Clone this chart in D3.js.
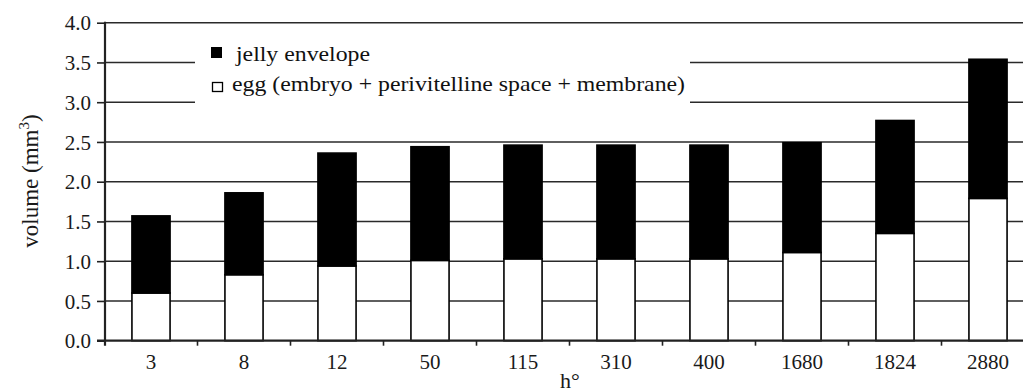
<!DOCTYPE html>
<html>
<head>
<meta charset="utf-8">
<script src="https://cdn.jsdelivr.net/npm/d3@7"></script>
<style>
  html, body { margin: 0; padding: 0; background: #fff; }
  svg { display: block; }
</style>
</head>
<body>
<svg id="chart" width="1023" height="392"></svg>
<script>
// ---- data ----
const categories = ["3", "8", "12", "50", "115", "310", "400", "1680", "1824", "2880"];
const eggValues   = [0.60, 0.83, 0.94, 1.01, 1.03, 1.03, 1.03, 1.11, 1.35, 1.79];
const jellyValues = [0.97, 1.03, 1.42, 1.43, 1.43, 1.43, 1.43, 1.38, 1.42, 1.75];
const yTicks = [0.0, 0.5, 1.0, 1.5, 2.0, 2.5, 3.0, 3.5, 4.0];
const seriesNames = ["jelly envelope", "egg (embryo + perivitelline space + membrane)"];
const xTitle = "h°";

const FONT = "'Liberation Serif', 'Times New Roman', Times, serif";
const svg = d3.select("#chart").style("font-family", FONT);
const W = 1023, H = 392;

const x = d3.scaleBand().domain(categories).range([104.5, 1034.5])
  .paddingInner(0.59).paddingOuter(0.295);
const y = d3.scaleLinear().domain([0, 4]).range([340.7, 22.7]);
const x0 = 105;

const rows = categories.map((c, i) => ({ cat: c, egg: eggValues[i], jelly: jellyValues[i] }));
const stack = d3.stack().keys(["egg", "jelly"])(rows);

// gridlines
svg.append("g").selectAll("line").data(yTicks.filter(d => d > 0)).join("line")
  .attr("x1", x0).attr("x2", W)
  .attr("y1", d => y(d)).attr("y2", d => y(d))
  .attr("stroke", "#2a2a2a").attr("stroke-width", 1.6);

// legend background
svg.append("rect").attr("x", 195).attr("y", 34).attr("width", 495).attr("height", 84).attr("fill", "#fff");

// bars
const fills = { egg: "#fff", jelly: "#000" };
svg.append("g").selectAll("g").data(stack).join("g")
  .attr("fill", d => fills[d.key])
  .selectAll("rect").data(d => d).join("rect")
  .attr("x", d => x(d.data.cat))
  .attr("width", x.bandwidth())
  .attr("y", d => y(d[1]))
  .attr("height", d => y(d[0]) - y(d[1]))
  .attr("stroke", "#000").attr("stroke-width", 1.6);

// y axis
const yAxis = d3.axisLeft(y).tickValues(yTicks).tickFormat(d3.format(".1f")).tickSize(8).tickPadding(6);
const gy = svg.append("g").attr("transform", `translate(${x0},0)`).call(yAxis);
gy.select(".domain").remove();
gy.selectAll(".tick line").attr("stroke", "#222").attr("stroke-width", 1.6);
gy.selectAll(".tick text").style("font-family", FONT).style("font-size", "21px").attr("fill", "#1a1a1a").attr("dy", "0.34em");
svg.append("line").attr("x1", x0).attr("x2", x0).attr("y1", y(4) - 1).attr("y2", y(0) + 5)
  .attr("stroke", "#222").attr("stroke-width", 2.2);

// x axis
const gx = svg.append("g").attr("transform", `translate(0,${y(0)})`)
  .call(d3.axisBottom(x).tickSize(0).tickPadding(13));
gx.select(".domain").remove();
gx.selectAll(".tick text").style("font-family", FONT).style("font-size", "21px").attr("fill", "#1a1a1a");
svg.append("line").attr("x1", 97).attr("x2", W).attr("y1", y(0)).attr("y2", y(0))
  .attr("stroke", "#222").attr("stroke-width", 2.2);
// boundary ticks between categories
svg.append("g").selectAll("line").data(categories.slice(1)).join("line")
  .attr("x1", d => x(d) - x.step() * x.paddingInner() / 2)
  .attr("x2", d => x(d) - x.step() * x.paddingInner() / 2)
  .attr("y1", y(0)).attr("y2", y(0) + 5)
  .attr("stroke", "#222").attr("stroke-width", 1.6);

// axis titles
svg.append("text").attr("x", 570).attr("y", 388).attr("text-anchor", "middle")
  .style("font-family", FONT).style("font-size", "22px").attr("fill", "#1a1a1a").text(xTitle);
const yt = svg.append("text").attr("transform", "translate(38,181) rotate(-90)")
  .attr("text-anchor", "middle").style("font-family", FONT).style("font-size", "23px").attr("fill", "#1a1a1a");
yt.append("tspan").text("volume (mm");
yt.append("tspan").style("font-size", "15px").attr("dy", -9).text("3");
yt.append("tspan").attr("dy", 9).text(")");

// legend
svg.append("rect").attr("x", 211).attr("y", 47).attr("width", 11).attr("height", 11).attr("fill", "#000");
svg.append("rect").attr("x", 212.5).attr("y", 82.5).attr("width", 10).attr("height", 9)
  .attr("fill", "#fff").attr("stroke", "#000").attr("stroke-width", 1.3);
svg.append("text").attr("x", 236).attr("y", 61).style("font-family", FONT).style("font-size", "21px").attr("fill", "#111")
  .attr("textLength", 134).attr("lengthAdjust", "spacingAndGlyphs").text(seriesNames[0]);
svg.append("text").attr("x", 232).attr("y", 91).style("font-family", FONT).style("font-size", "21px").attr("fill", "#111")
  .attr("textLength", 453).attr("lengthAdjust", "spacingAndGlyphs").text(seriesNames[1]);
</script>
</body>
</html>
